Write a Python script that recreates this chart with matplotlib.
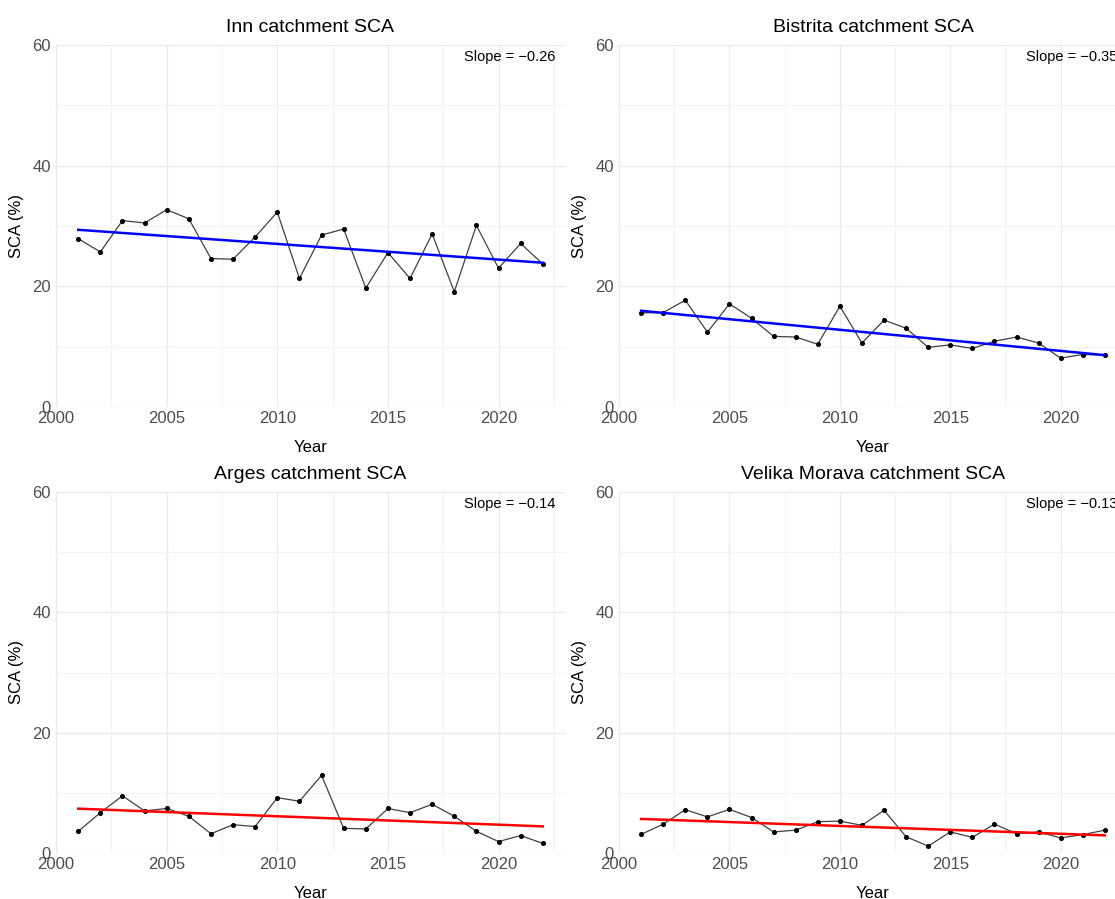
import numpy as np
import matplotlib.pyplot as plt
from matplotlib.ticker import MultipleLocator

plt.rcParams['font.family'] = ['Liberation Sans', 'DejaVu Sans']

years = np.arange(2001, 2023)

inn_sca = [27.9, 25.7, 30.9, 30.5, 32.7, 31.2, 24.6, 24.5, 28.2, 32.3, 21.3,
           28.5, 29.5, 19.7, 25.6, 21.3, 28.7, 19.1, 30.1, 23.0, 27.1, 23.7]
bistrita_sca = [15.6, 15.65, 17.7, 12.4, 17.1, 14.7, 11.7, 11.6, 10.4, 16.7, 10.6,
                14.4, 13.05, 9.9, 10.3, 9.7, 10.9, 11.6, 10.6, 8.1, 8.7, 8.6]
arges_sca = [3.6, 6.7, 9.5, 7.0, 7.4, 6.1, 3.2, 4.7, 4.4, 9.2, 8.6,
             12.9, 4.1, 4.0, 7.4, 6.7, 8.1, 6.1, 3.6, 1.9, 2.9, 1.6]
morava_sca = [3.1, 4.8, 7.2, 6.0, 7.25, 5.9, 3.5, 3.8, 5.2, 5.3, 4.6,
              7.1, 2.7, 1.15, 3.5, 2.6, 4.8, 3.2, 3.5, 2.5, 3.05, 3.8]

titles = ["Inn catchment SCA", "Bistrita catchment SCA",
          "Arges catchment SCA", "Velika Morava catchment SCA"]
slopes = [-0.26, -0.35, -0.14, -0.13]
trend_colors = ["blue", "blue", "red", "red"]
series = [inn_sca, bistrita_sca, arges_sca, morava_sca]

W, H = 1115, 899
fig = plt.figure(figsize=(W / 100, H / 100), dpi=100)

# panel boxes in pixels: left, top, right, bottom
boxes = [(55, 45, 566, 407), (618, 45, 1128, 407),
         (55, 492, 566, 853), (618, 492, 1128, 853)]

for box, title, y, slope, col in zip(boxes, titles, series, slopes, trend_colors):
    l, t, r, b = box
    ax = fig.add_axes([l / W, (H - b) / H, (r - l) / W, (b - t) / H])
    y = np.array(y)

    ax.plot(years, y, color="black", lw=0.9, alpha=0.75, zorder=3)
    ax.scatter(years, y, s=7, color="black", zorder=4)

    # least-squares line through the mean with the reported slope
    x_mean, y_mean = years.mean(), y.mean()
    fit = y_mean + slope * (years - x_mean)
    ax.plot(years[[0, -1]], fit[[0, -1]], color=col, lw=1.8, zorder=5)

    ax.set_xlim(1999.95, 2023.05)
    ax.set_ylim(0, 60)
    ax.xaxis.set_major_locator(MultipleLocator(5))
    ax.xaxis.set_minor_locator(MultipleLocator(2.5))
    ax.yaxis.set_major_locator(MultipleLocator(20))
    ax.yaxis.set_minor_locator(MultipleLocator(10))
    ax.grid(which="major", color="#EBEBEB", lw=1.0)
    ax.grid(which="minor", color="#F3F3F3", lw=0.8)
    ax.set_axisbelow(True)
    for s in ax.spines.values():
        s.set_visible(False)
    ax.tick_params(which="both", length=0, labelsize=12, labelcolor="#4D4D4D", pad=3)

    ax.set_title(title, fontsize=14, pad=9)
    ax.set_xlabel("Year", fontsize=12, labelpad=10)
    ax.set_ylabel("SCA (%)", fontsize=12, labelpad=6)
    ax.text(0.98, 0.985, f"Slope = \u2212{abs(slope):.2f}", transform=ax.transAxes,
            ha="right", va="top", fontsize=10.5)

fig.savefig("out.png", dpi=100)
